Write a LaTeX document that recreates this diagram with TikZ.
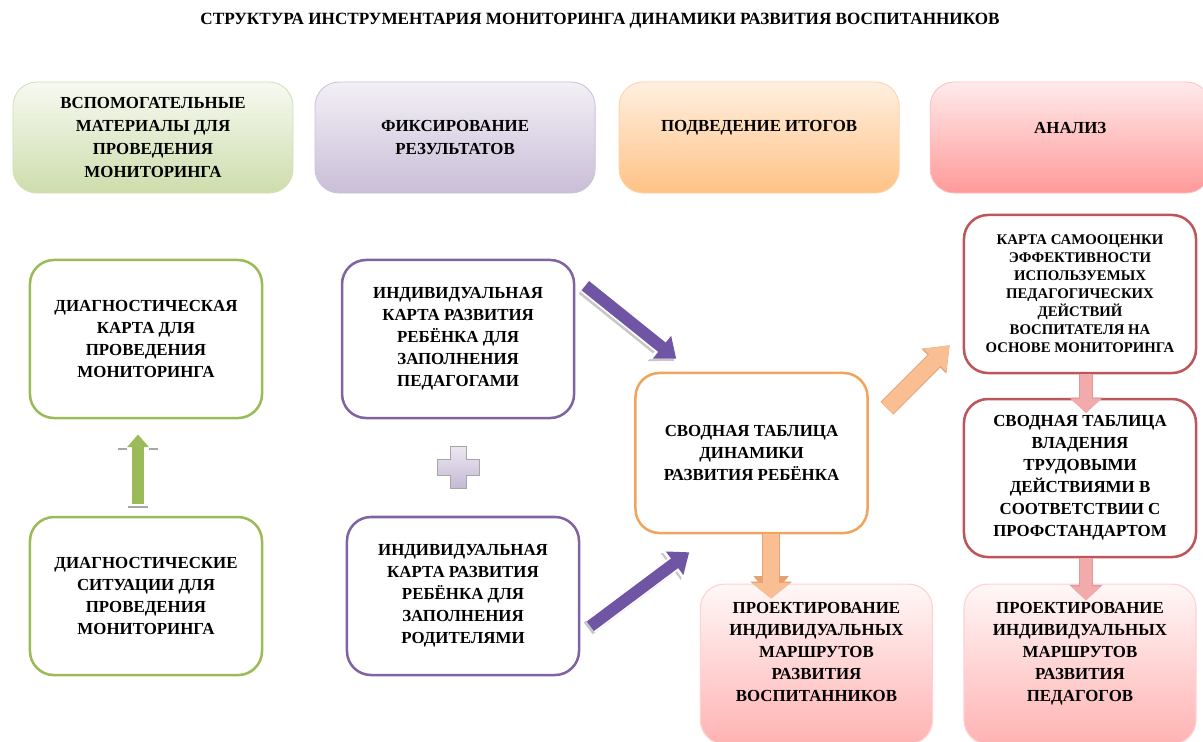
\documentclass[tikz,border=0pt]{standalone}
\usepackage{fontspec}
\setmainfont{Liberation Serif}
\usetikzlibrary{positioning,arrows.meta}

\definecolor{cardgreen}{HTML}{9BBB59}
\definecolor{cardpurple}{HTML}{8064A2}
\definecolor{cardorange}{HTML}{F2A45E}
\definecolor{cardred}{HTML}{BE555A}
\definecolor{arrowpurple}{HTML}{7155A5}
\definecolor{arroworange}{HTML}{F9BE92}
\definecolor{orangeedge}{HTML}{E5A273}
\definecolor{arrowpink}{HTML}{F3AAAA}
\definecolor{pinkedge}{HTML}{DE9A9A}

\newcommand{\liftup}[2]{\raisebox{#1}[\height][\depth]{#2}}

\tikzset{
  title/.style={font=\bfseries\fontsize{12.2}{14}\selectfont},
  head/.style={draw, line width=0.6pt, rounded corners=0.6cm, minimum width=7cm,
    minimum height=2.775cm, align=center, font=\bfseries\fontsize{12}{16.3}\selectfont},
  greenhead/.style={head, draw=cardgreen!45, top color=cardgreen!8, bottom color=cardgreen!50},
  purplehead/.style={head, draw=cardpurple!40, top color=cardpurple!10, bottom color=cardpurple!42},
  orangehead/.style={head, draw=orange!35, top color=orange!12, bottom color=orange!48},
  redhead/.style={head, draw=red!25, top color=red!8, bottom color=red!40},
  card/.style={draw, fill=white, line width=1.8pt, rounded corners=0.6cm, minimum width=5.8cm,
    minimum height=3.95cm, align=center, font=\bfseries\fontsize{12}{15.6}\selectfont},
  greencard/.style={card, draw=cardgreen},
  purplecard/.style={card, draw=cardpurple},
  orangecard/.style={card, draw=cardorange, minimum height=4cm},
  redcard/.style={card, draw=cardred},
  pinkcard/.style={card, line width=0.8pt, draw=red!18, top color=red!3, bottom color=red!30,
    minimum height=4cm},
  purplearrow/.style={draw=arrowpurple, line width=8.5pt, -{Triangle[width=20pt,length=13pt]},
    preaction={draw=black!22, line width=10.5pt, -{Triangle[width=23pt,length=14.5pt]},
      transform canvas={shift={(-1.5pt,-1.5pt)}}},
    preaction={draw=white, line width=11pt, -{Triangle[width=24pt,length=15pt]}}},
  orangearrow/.style={draw=arroworange, line width=11.5pt, -{Triangle[width=22pt,length=15pt]},
    preaction={draw=orangeedge, line width=12.8pt, -{Triangle[width=24pt,length=16pt]}}},
  pinkarrow/.style={draw=arrowpink, line width=8.5pt, -{Triangle[width=21pt,length=10pt]},
    preaction={draw=pinkedge, line width=9.8pt, -{Triangle[width=23pt,length=11pt]}}},
  greenarrow/.style={draw=cardgreen, line width=8.5pt, -{Triangle[width=15pt,length=9pt]}}
}

\begin{document}
\begin{tikzpicture}[x=0.025cm,y=-0.025cm,on grid]
\useasboundingbox (0,0) rectangle (1203,742);
\clip (0,0) rectangle (1203,742);

\node[title] (T) at (600,21) {СТРУКТУРА ИНСТРУМЕНТАРИЯ МОНИТОРИНГА ДИНАМИКИ РАЗВИТИЯ ВОСПИТАННИКОВ};

% header row
\node[greenhead]  (H1) at (153,137.5)       {ВСПОМОГАТЕЛЬНЫЕ\\МАТЕРИАЛЫ ДЛЯ\\ПРОВЕДЕНИЯ\\МОНИТОРИНГА};
\node[purplehead] (H2) [right=7.55cm of H1] {ФИКСИРОВАНИЕ\\РЕЗУЛЬТАТОВ};
\node[orangehead] (H3) [right=7.6cm of H2]  {\liftup{0.25cm}{ПОДВЕДЕНИЕ ИТОГОВ}};
\node[redhead]    (H4) [right=7.775cm of H3] {\liftup{0.25cm}{АНАЛИЗ}};

% materials
\node[greencard]  (D1) at (146,339)         {ДИАГНОСТИЧЕСКАЯ\\КАРТА ДЛЯ\\ПРОВЕДЕНИЯ\\МОНИТОРИНГА};
\node[greencard]  (D2) [below=6.425cm of D1] {ДИАГНОСТИЧЕСКИЕ\\СИТУАЦИИ ДЛЯ\\ПРОВЕДЕНИЯ\\МОНИТОРИНГА};

% results
\node[purplecard] (P1) [right=7.8cm of D1]  {ИНДИВИДУАЛЬНАЯ\\КАРТА РАЗВИТИЯ\\РЕБЁНКА ДЛЯ\\ЗАПОЛНЕНИЯ\\ПЕДАГОГАМИ};
\node[purplecard] (P2) at (463,596)         {ИНДИВИДУАЛЬНАЯ\\КАРТА РАЗВИТИЯ\\РЕБЁНКА ДЛЯ\\ЗАПОЛНЕНИЯ\\РОДИТЕЛЯМИ};

% summary
\node[orangecard] (O1) at (751.5,453)       {СВОДНАЯ ТАБЛИЦА\\ДИНАМИКИ\\РАЗВИТИЯ РЕБЁНКА};

% analysis
\node[redcard, font=\bfseries\fontsize{10.5}{12.8}\selectfont] (R1) at (1080,294)
  {КАРТА САМООЦЕНКИ\\ЭФФЕКТИВНОСТИ\\ИСПОЛЬЗУЕМЫХ\\ПЕДАГОГИЧЕСКИХ\\ДЕЙСТВИЙ\\ВОСПИТАТЕЛЯ НА\\ОСНОВЕ МОНИТОРИНГА};
\node[redcard]    (R2) [below=4.6cm of R1]  {СВОДНАЯ ТАБЛИЦА\\ВЛАДЕНИЯ\\ТРУДОВЫМИ\\ДЕЙСТВИЯМИ В\\СООТВЕТСТВИИ С\\ПРОФСТАНДАРТОМ};
\node[pinkcard]   (V2) [below=4.65cm of R2] {\liftup{0.28cm}{\begin{tabular}{c}ПРОЕКТИРОВАНИЕ\\ИНДИВИДУАЛЬНЫХ\\МАРШРУТОВ\\РАЗВИТИЯ\\ПЕДАГОГОВ\end{tabular}}};
\node[pinkcard]   (V1) [left=6.5875cm of V2] {\liftup{0.28cm}{\begin{tabular}{c}ПРОЕКТИРОВАНИЕ\\ИНДИВИДУАЛЬНЫХ\\МАРШРУТОВ\\РАЗВИТИЯ\\ВОСПИТАННИКОВ\end{tabular}}};

% arrow ends
\coordinate (a1) at ([shift={(10,27)}]P1.north east);
\coordinate (a2) at ([shift={(42,-13)}]O1.north west);
\coordinate (b1) at ([shift={(10,-50)}]P2.south east);
\coordinate (b2) at ([shift={(55,18)}]O1.south west);
\coordinate (c1) at ([shift={(18,-126)}]O1.south east);
\coordinate (c2) at ([shift={(-13,-29)}]R1.south west);
\coordinate (d1) at ([xshift=0.49cm]O1.south);
\coordinate (d2) at ([shift={(0,15)}]d1 |- V1.north);
\coordinate (plus) at (458,467);

\draw[purplearrow] (a1) -- (a2);
\draw[purplearrow] (b1) -- (b2);
\draw[orangearrow] (c1) -- (c2);
\draw[orangearrow, line width=11pt, -{Triangle[width=27pt,length=11pt]},
  preaction={draw=orangeedge, line width=12.3pt, -{Triangle[width=29pt,length=12pt]}}]
  (d1) -- (d2);
\draw[pinkarrow] ([xshift=0.15cm]R1.south) -- ([xshift=0.15cm,yshift=-0.38cm]R2.north);
\draw[pinkarrow] ([xshift=0.15cm]R2.south) -- ([xshift=0.15cm,yshift=-0.42cm]V2.north);
\draw[greenarrow] ([xshift=-0.2cm,yshift=0.3cm]D2.north) -- ([xshift=-0.2cm,yshift=-0.38cm]D1.south);
\draw[black!35, line width=1pt] (118,449) -- (127,449) (149,449) -- (158,449) (128,507) -- (148,507);

% plus sign
\draw[draw=black!35, line width=0.7pt, top color=cardpurple!15, bottom color=cardpurple!45]
  (plus) ++(-8,-21) -- ++(16,0) -- ++(0,13) -- ++(13,0) -- ++(0,16) -- ++(-13,0)
  -- ++(0,13) -- ++(-16,0) -- ++(0,-13) -- ++(-13,0) -- ++(0,-16) -- ++(13,0) -- cycle;
\end{tikzpicture}
\end{document}
